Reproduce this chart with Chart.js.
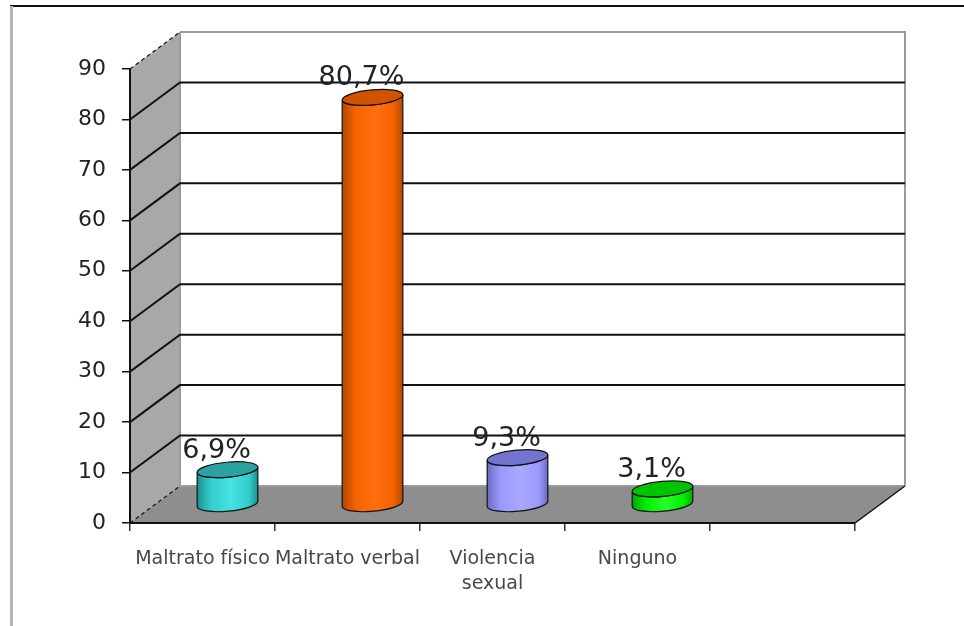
<!DOCTYPE html>
<html>
<head>
<meta charset="utf-8">
<script src="https://cdn.jsdelivr.net/npm/chart.js@4.4.1/dist/chart.umd.min.js"></script>
<style>
  html, body { margin: 0; padding: 0; background: #fff; }
  #wrap { width: 964px; height: 626px; position: relative; }
</style>
</head>
<body>
<div id="wrap"><canvas id="chart"></canvas></div>
<script>
const categories = ["Maltrato físico", "Maltrato verbal", ["Violencia", "sexual"], "Ninguno", ""];
const values = [6.9, 80.7, 9.3, 3.1, null];
const yTicks = [0, 10, 20, 30, 40, 50, 60, 70, 80, 90];

// cylinder shades: edge, body, highlight, top
const cylColors = [
  { edge: "#1c8f8f", base: "#33cccc", light: "#45e3e3", top: "#2aa2a2" },
  { edge: "#b04800", base: "#f56200", light: "#ff6e10", top: "#d05400" },
  { edge: "#6a6ac0", base: "#9999ff", light: "#a9a9ff", top: "#7373d0" },
  { edge: "#00a600", base: "#00ee00", light: "#2aff2a", top: "#00c400" }
];

const DX = 50, DY = -37;   // depth of the 3D box
const fmt = v => v.toFixed(1).replace(".", ",") + "%";

function drawCylinder(ctx, cx, yTop, yBase, rx, ry, rot, c) {
  const cos = Math.cos(rot), sin = Math.sin(rot);
  const g = ctx.createLinearGradient(cx - rx, 0, cx + rx, 0);
  g.addColorStop(0, c.edge);
  g.addColorStop(0.22, c.base);
  g.addColorStop(0.55, c.light);
  g.addColorStop(0.85, c.base);
  g.addColorStop(1, c.edge);
  ctx.beginPath();
  ctx.moveTo(cx - rx * cos, yTop - rx * sin);
  ctx.lineTo(cx - rx * cos, yBase - rx * sin);
  ctx.ellipse(cx, yBase, rx, ry, rot, Math.PI, 0, true);
  ctx.lineTo(cx + rx * cos, yTop + rx * sin);
  ctx.ellipse(cx, yTop, rx, ry, rot, 0, Math.PI, false);
  ctx.closePath();
  ctx.fillStyle = g;
  ctx.fill();
  ctx.strokeStyle = "#111";
  ctx.lineWidth = 1.2;
  ctx.stroke();

  ctx.beginPath();
  ctx.ellipse(cx, yTop, rx, ry, rot, 0, Math.PI * 2);
  ctx.fillStyle = c.top;
  ctx.fill();
  ctx.stroke();
}

const room3d = {
  id: "room3d",
  beforeDraw(chart) {
    const { ctx, chartArea: a, scales } = chart;
    const y = scales.y;
    const L = a.left, R = a.right;
    const y0 = y.getPixelForValue(yTicks[0]);
    const yMax = y.getPixelForValue(yTicks[yTicks.length - 1]);
    ctx.save();

    // outer frame
    ctx.strokeStyle = "#111";
    ctx.lineWidth = 2;
    ctx.beginPath(); ctx.moveTo(10, 6); ctx.lineTo(chart.width, 6); ctx.stroke();
    ctx.strokeStyle = "#b5b5b5";
    ctx.lineWidth = 3;
    ctx.beginPath(); ctx.moveTo(11.5, 6); ctx.lineTo(11.5, chart.height); ctx.stroke();

    // back wall
    ctx.fillStyle = "#fff";
    ctx.fillRect(L + DX, yMax + DY, R - L, y0 - yMax);

    // side wall
    ctx.fillStyle = "#a8a8a8";
    ctx.beginPath();
    ctx.moveTo(L, yMax); ctx.lineTo(L + DX, yMax + DY);
    ctx.lineTo(L + DX, y0 + DY); ctx.lineTo(L, y0);
    ctx.closePath(); ctx.fill();

    // floor
    ctx.fillStyle = "#8e8e8e";
    ctx.beginPath();
    ctx.moveTo(L, y0); ctx.lineTo(L + DX, y0 + DY);
    ctx.lineTo(R + DX, y0 + DY); ctx.lineTo(R, y0);
    ctx.closePath(); ctx.fill();

    // wall borders
    ctx.strokeStyle = "#9a9a9a";
    ctx.lineWidth = 2;
    ctx.beginPath();
    ctx.moveTo(L + DX, yMax + DY); ctx.lineTo(R + DX, yMax + DY);
    ctx.lineTo(R + DX, y0 + DY);
    ctx.moveTo(L + DX, y0 + DY); ctx.lineTo(R + DX, y0 + DY);
    ctx.stroke();
    ctx.beginPath(); ctx.moveTo(L + DX, yMax + DY); ctx.lineTo(L + DX, y0 + DY); ctx.stroke();

    // gridlines
    ctx.strokeStyle = "#111";
    yTicks.forEach(v => {
      const yy = y.getPixelForValue(v);
      const inner = v !== yTicks[0] && v !== yTicks[yTicks.length - 1];
      ctx.setLineDash(inner ? [] : [4, 3]);
      ctx.lineWidth = inner ? 2 : 1.2;
      ctx.beginPath();
      ctx.moveTo(L, yy); ctx.lineTo(L + DX, yy + DY);
      if (inner) ctx.lineTo(R + DX, yy + DY);
      ctx.stroke();
    });
    ctx.setLineDash([]);

    // floor right edge
    ctx.lineWidth = 1.5;
    ctx.beginPath(); ctx.moveTo(R, y0); ctx.lineTo(R + DX, y0 + DY); ctx.stroke();
    ctx.restore();
  },
  afterDatasetsDraw(chart) {
    const { ctx } = chart;
    const meta = chart.getDatasetMeta(0);
    ctx.save();
    meta.data.forEach((bar, i) => {
      if (values[i] == null) return;
      const cx = bar.x + DX / 2;
      const yTop = bar.y + DY / 2;
      const yBase = bar.base + DY / 2;
      drawCylinder(ctx, cx, yTop, yBase, bar.width / 2, 7.5, -0.09, cylColors[i]);
      ctx.fillStyle = "#222";
      ctx.font = '27px "DejaVu Sans"';
      ctx.textAlign = "center";
      ctx.textBaseline = "alphabetic";
      ctx.fillText(fmt(values[i]), cx - 11, yTop - 12);
    });
    ctx.restore();
  }
};

new Chart(document.getElementById("chart"), {
  type: "bar",
  data: {
    labels: categories,
    datasets: [{
      data: values,
      backgroundColor: "rgba(0,0,0,0)",
      borderWidth: 0,
      categoryPercentage: 1,
      barPercentage: 0.42
    }]
  },
  options: {
    responsive: true,
    maintainAspectRatio: false,
    animation: false,
    layout: { padding: { left: 0, top: 69, right: 109, bottom: 0 } },
    plugins: { legend: { display: false }, tooltip: { enabled: false } },
    scales: {
      y: {
        min: 0,
        max: 90,
        afterBuildTicks: s => { s.ticks = yTicks.map(v => ({ value: v })); },
        afterFit: s => { s.width = 130; },
        grid: { drawOnChartArea: false, tickLength: 8, color: "#111", lineWidth: 1.5 },
        border: { color: "#111", width: 2 },
        ticks: { color: "#222", padding: 16, font: { family: "DejaVu Sans", size: 22 } }
      },
      x: {
        afterFit: s => { s.height = 103; },
        grid: { drawOnChartArea: false, tickLength: 8, color: "#333", lineWidth: 1.5 },
        border: { color: "#111", width: 2 },
        ticks: { color: "#484848", padding: 16, maxRotation: 0, autoSkip: false,
                 font: { family: "DejaVu Sans", size: 19, lineHeight: 1.3 } }
      }
    }
  },
  plugins: [room3d]
});
</script>
</body>
</html>
